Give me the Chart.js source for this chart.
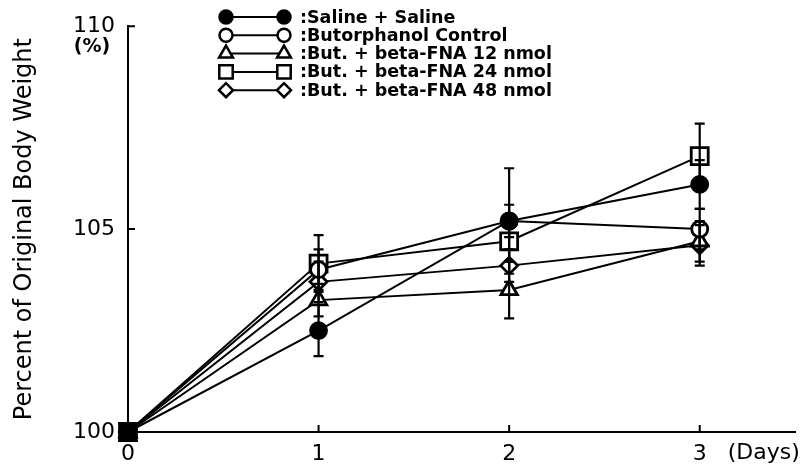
<!DOCTYPE html>
<html>
<head>
<meta charset="utf-8">
<script src="https://cdn.jsdelivr.net/npm/chart.js@4.4.1/dist/chart.umd.min.js"></script>
<style>
  html, body { margin: 0; padding: 0; background: #fff; }
</style>
</head>
<body>
<canvas id="weightChart" width="801" height="467"></canvas>
<script>
// data (percent of original body weight)
const days = [0, 1, 2, 3];
const xTicks = [0, 1, 2, 3];
const yTicks = [100, 105, 110];

const seriesLabels = [
  ":Saline + Saline",
  ":Butorphanol Control",
  ":But. + beta-FNA 12 nmol",
  ":But. + beta-FNA 24 nmol",
  ":But. + beta-FNA 48 nmol"
];

const salineValues = [100, 102.5, 105.2, 106.1];
const butorphanolValues = [100, 104.0, 105.2, 105.0];
const fna12Values = [100, 103.25, 103.5, 104.7];
const fna24Values = [100, 104.15, 104.7, 106.8];
const fna48Values = [100, 103.7, 104.1, 104.6];

const salineErr = [0, 0.63, 1.3, 0.6];
const butorphanolErr = [0, 0.5, 0.4, 0.5];
const fna12Err = [0, 0.4, 0.7, 0.5];
const fna24Err = [0, 0.7, 0.5, 0.8];
const fna48Err = [0, 0.5, 0.4, 0.5];

const allValues = [salineValues, butorphanolValues, fna12Values, fna24Values, fna48Values];
const allErrors = [salineErr, butorphanolErr, fna12Err, fna24Err, fna48Err];

const styles = ["circle", "circle", "triangle", "rect", "rectRot"];
const filled = [true, false, false, false, false];
const pointSizes = [8, 8, 9.5, 12, 8.5];
const legendSizes = [6.5, 6.5, 8, 9.5, 7];

Chart.defaults.font.family = "DejaVu Sans";
Chart.defaults.color = "#000";

function toPoints(vals) {
  return days.map((d, i) => ({ x: d, y: vals[i] }));
}

const datasets = allValues.map((vals, i) => ({
  label: seriesLabels[i],
  data: toPoints(vals),
  borderColor: "#000",
  borderWidth: 2,
  pointStyle: styles[i],
  pointRadius: pointSizes[i],
  pointBorderWidth: 2.8,
  pointBorderColor: "#000",
  pointBackgroundColor: (c) => (filled[i] || c.dataIndex === 0 ? "#000" : "#fff"),
  tension: 0,
  clip: false
}));

function markPoint(ctx, style, r, x, y) {
  if (Chart.helpers && Chart.helpers.drawPoint) {
    Chart.helpers.drawPoint(ctx, { pointStyle: style, radius: r, borderWidth: ctx.lineWidth, rotation: 0 }, x, y);
    return;
  }
  ctx.beginPath();
  ctx.arc(x, y, r, 0, Math.PI * 2);
  ctx.fill();
  ctx.stroke();
}

const decor = {
  id: "decor",
  afterDatasetsDraw(chart) {
    const { ctx, scales: { y } } = chart;
    ctx.save();
    ctx.strokeStyle = "#000";
    ctx.lineWidth = 2.2;
    allErrors.forEach((errs, i) => {
      const meta = chart.getDatasetMeta(i);
      meta.data.forEach((pt, j) => {
        const e = errs[j];
        if (!e) return;
        const v = allValues[i][j];
        const top = y.getPixelForValue(v + e);
        const bot = y.getPixelForValue(v - e);
        ctx.beginPath();
        ctx.moveTo(pt.x, top); ctx.lineTo(pt.x, bot);
        ctx.moveTo(pt.x - 5, top); ctx.lineTo(pt.x + 5, top);
        ctx.moveTo(pt.x - 5, bot); ctx.lineTo(pt.x + 5, bot);
        ctx.stroke();
      });
    });
    ctx.restore();
  },
  afterDraw(chart) {
    const { ctx, chartArea, scales: { x, y } } = chart;
    ctx.save();
    ctx.strokeStyle = "#000";
    ctx.fillStyle = "#000";
    ctx.lineWidth = 2;

    // inward tick marks
    ctx.beginPath();
    yTicks.slice(1).forEach(v => {
      const py = y.getPixelForValue(v);
      ctx.moveTo(chartArea.left, py); ctx.lineTo(chartArea.left + 7, py);
    });
    xTicks.slice(1).forEach(v => {
      const px = x.getPixelForValue(v);
      ctx.moveTo(px, chartArea.bottom); ctx.lineTo(px, chartArea.bottom - 7);
    });
    ctx.stroke();

    // unit labels
    ctx.font = "bold 19px 'DejaVu Sans'";
    ctx.textAlign = "center";
    ctx.textBaseline = "middle";
    ctx.fillText("(%)", 92, 47);
    ctx.font = "22px 'DejaVu Sans'";
    ctx.textAlign = "left";
    ctx.fillText("(Days)", x.getPixelForValue(3) + 28, chartArea.bottom + 21);

    // legend
    seriesLabels.forEach((label, i) => {
      const ly = 17 + i * 18.3;
      ctx.lineWidth = 2;
      ctx.beginPath();
      ctx.moveTo(226, ly); ctx.lineTo(284, ly);
      ctx.stroke();
      ctx.lineWidth = 2.5;
      ctx.fillStyle = filled[i] ? "#000" : "#fff";
      [226, 284].forEach(px => markPoint(ctx, styles[i], legendSizes[i], px, ly));
      ctx.fillStyle = "#000";
      ctx.font = "bold 17.5px 'DejaVu Sans'";
      ctx.textAlign = "left";
      ctx.textBaseline = "middle";
      ctx.fillText(label, 300, ly + 1);
    });
    ctx.restore();
  }
};

new Chart(document.getElementById("weightChart"), {
  type: "line",
  data: { datasets: datasets },
  plugins: [decor],
  options: {
    responsive: false,
    animation: false,
    devicePixelRatio: 1,
    layout: { autoPadding: false, padding: { top: 20, right: 6, left: 0, bottom: 0 } },
    plugins: { legend: { display: false }, tooltip: { enabled: false } },
    scales: {
      x: {
        type: "linear",
        min: 0,
        max: 3.5,
        afterBuildTicks: (s) => { s.ticks = xTicks.map(v => ({ value: v })); },
        afterFit: (s) => { s.height = 35; },
        grid: { display: false, drawTicks: false },
        border: { display: true, color: "#000", width: 2 },
        ticks: { padding: 9, font: { size: 22 }, color: "#000" }
      },
      y: {
        min: 100,
        max: 110,
        afterBuildTicks: (s) => { s.ticks = yTicks.map(v => ({ value: v })); },
        afterFit: (s) => { s.width = 128; },
        grid: { display: false, drawTicks: false },
        border: { display: true, color: "#000", width: 2 },
        ticks: { padding: 13, font: { size: 22 }, color: "#000" },
        title: {
          display: true,
          text: "Percent of Original Body Weight",
          font: { size: 24 },
          color: "#000",
          padding: { top: 10, bottom: 0 }
        }
      }
    }
  }
});
</script>
</body>
</html>
